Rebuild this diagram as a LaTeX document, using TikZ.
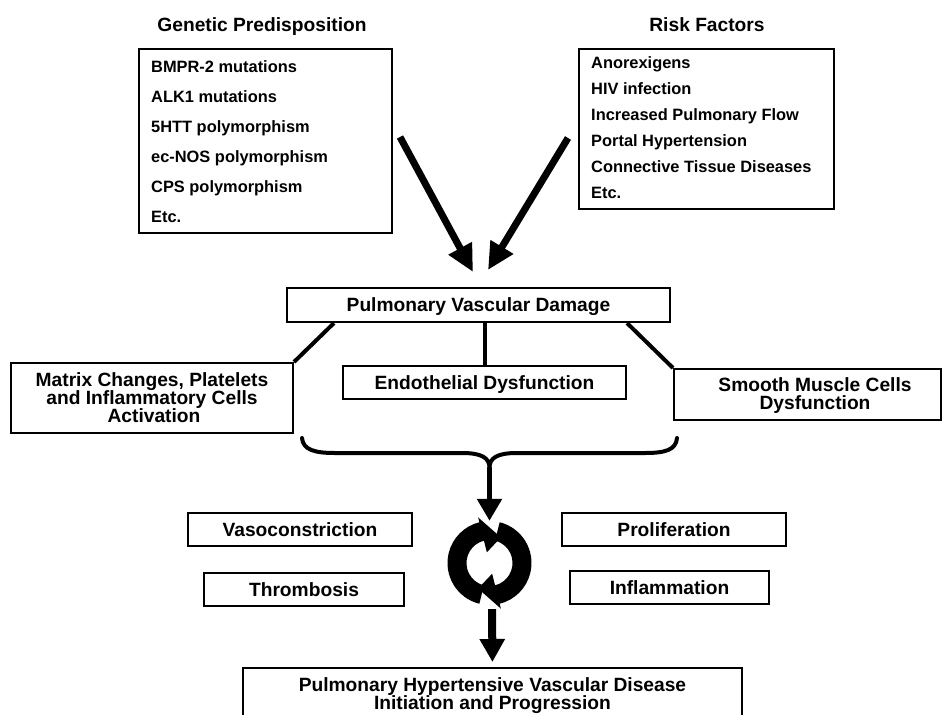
\documentclass[tikz,border=0pt]{standalone}
\usepackage{fontspec}
\setmainfont{Liberation Sans}
\usetikzlibrary{arrows.meta,calc}
\begin{document}
\begin{tikzpicture}[x=1pt,y=-1pt,
  box/.style={draw=black, line width=2pt, inner sep=0pt, fill=white},
  big/.style={font=\bfseries\fontsize{19.2}{19.2}\selectfont},
  small/.style={font=\bfseries\fontsize{16.4}{16.4}\selectfont},
  capc/.style={text height=13.8pt, text depth=0pt},
  lbl/.style={inner sep=0pt, anchor=base},
  item/.style={small, inner sep=0pt, anchor=base west},
  conn/.style={line width=4pt},
  bigarrow/.style={line width=7pt, -{Triangle[length=27pt,width=25pt]}},
  midarrow/.style={line width=5.5pt, -{Triangle[length=22pt,width=24pt]}},
  botarrow/.style={line width=8pt, -{Triangle[length=23pt,width=24pt]}},
  bracestyle/.style={line width=4pt}]
\useasboundingbox (0,0) rectangle (943,715);
\clip (0,0) rectangle (943,715);

% headers
\node[big, lbl] (hgen) at (262,31) {Genetic Predisposition};
\node[big, lbl] (hrisk) at (707,31) {Risk Factors};

% genetic box
\node[box, minimum width=253pt, minimum height=184pt, anchor=north west] (gen) at (138,48) {};
\node[item] (g1) at (151,72) {BMPR-2 mutations};
\node[item] (g2) at (151,102) {ALK1 mutations};
\node[item] (g3) at (151,132) {5HTT polymorphism};
\node[item] (g4) at (151,162) {ec-NOS polymorphism};
\node[item] (g5) at (151,192) {CPS polymorphism};
\node[item] (g6) at (151,222) {Etc.};

% risk box
\node[box, minimum width=255pt, minimum height=160pt, anchor=north west] (risk) at (578,48) {};
\node[item] (r1) at (591,68) {Anorexigens};
\node[item] (r2) at (591,94) {HIV infection};
\node[item] (r3) at (591,120) {Increased Pulmonary Flow};
\node[item] (r4) at (591,146) {Portal Hypertension};
\node[item] (r5) at (591,172) {Connective Tissue Diseases};
\node[item] (r6) at (591,198) {Etc.};

% big arrows
\coordinate (ga) at (400,137);
\coordinate (gb) at (473,272);
\coordinate (ra) at (568,138);
\coordinate (rb) at (488,270);
\draw[bigarrow] (ga) -- (gb);
\draw[bigarrow] (ra) -- (rb);

% pulmonary vascular damage
\node[box, big, capc, minimum width=383pt, minimum height=34pt] (pvd) at (478.5,305) {Pulmonary Vascular Damage};

% second row
\node[box, minimum width=282pt, minimum height=70pt] (mat) at (152,398) {};
\node[big, lbl] (m1) at (152,386) {Matrix Changes, Platelets};
\node[big, lbl] (m2) at (152,404) {and Inflammatory Cells};
\node[big, lbl] (m3) at (154,422) {Activation};

\node[box, big, capc, minimum width=283pt, minimum height=33pt] (endo) at (484.5,382.5) {Endothelial Dysfunction};

\node[box, minimum width=267pt, minimum height=51pt] (smc) at (807.5,394.5) {};
\node[big, lbl] (s1) at (815,391.5) {Smooth Muscle Cells};
\node[big, lbl] (s2) at (815,409.3) {Dysfunction};

\draw[conn] ($(pvd.south west)+(48,0)$) -- (mat.north east);
\draw[conn] (endo.north) -- (endo.north |- pvd.south);
\draw[conn] ($(pvd.south east)+(-44,0)$) -- (smc.north west);

% brace
\coordinate (bc) at (489.5,467);
\draw[bracestyle, line cap=round] (302,438) .. controls (303,450) and (315,453) .. (335,453) -- (462,453) .. controls (482,453) and (489,458) .. (bc) .. controls (490,458) and (497,453) .. (517,453) -- (645,453) .. controls (665,453) and (676,450) .. (677,438);

% cycle icon
\node[circle, minimum size=84pt, inner sep=0pt] (icon) at (489.5,563) {};
\begin{scope}[shift={(489.5,563)}, yscale=-1]
  \fill (256:42) arc[start angle=256, end angle=104, radius=42] -- (104:47) -- (66:28) -- (104:11) -- (104:23) arc[start angle=104, end angle=256, radius=23] -- cycle;
  \fill (76:42) arc[start angle=76, end angle=-76, radius=42] -- (-76:47) -- (-114:28) -- (-76:11) -- (-76:23) arc[start angle=-76, end angle=76, radius=23] -- cycle;
\end{scope}

\draw[midarrow] (bc) -- (icon.north);

% side boxes
\node[box, big, capc, minimum width=224pt, minimum height=33pt] (vaso) at (300,529.5) {Vasoconstriction};
\node[box, big, capc, minimum width=200pt, minimum height=33pt] (thromb) at (304,589.5) {Thrombosis};
\node[box, big, capc, minimum width=224pt, minimum height=33pt] (prolif) at (674,529.5) {Proliferation};
\node[box, big, capc, minimum width=199pt, minimum height=33pt] (inflam) at (669.5,587.5) {Inflammation};

% bottom box
\node[box, minimum width=499pt, minimum height=60pt] (phd) at (492.5,698) {};
\node[big, lbl] (p1) at (492.5,691.5) {Pulmonary Hypertensive Vascular Disease};
\node[big, lbl] (p2) at (492.5,709.8) {Initiation and Progression};

\draw[botarrow, shorten >=5pt] ($(icon.south)+(2.5,4)$) -- (phd.north);
\end{tikzpicture}
\end{document}
